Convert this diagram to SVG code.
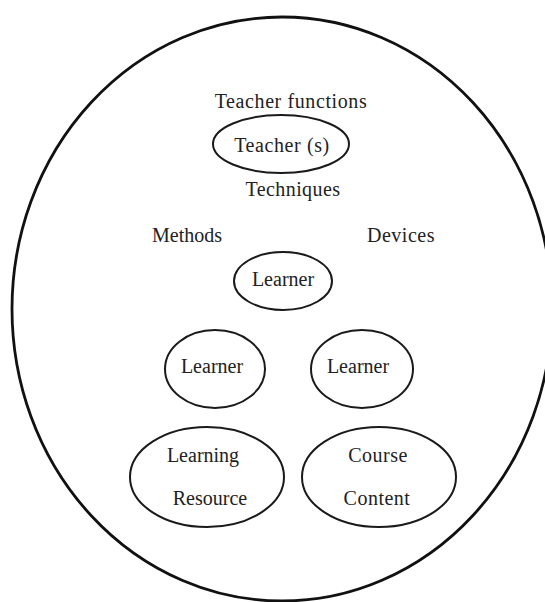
<svg xmlns="http://www.w3.org/2000/svg" width="545" height="602" viewBox="0 0 545 602">
  <style>
    .ring { fill: none; stroke: #111; stroke-width: 2.8; }
    .node { fill: none; stroke: #1a1a1a; stroke-width: 2; }
    .lbl { font-family: "Liberation Serif", "Times New Roman", serif; font-size: 20px; fill: #222; text-anchor: middle; }
  </style>
  <rect width="545" height="602" fill="#fff"/>
  <!-- outer boundary of the learning environment -->
  <ellipse class="ring" cx="282" cy="309" rx="270" ry="292"/>

  <g id="labels">
    <text class="lbl" x="291" y="108" letter-spacing="0.6">Teacher functions</text>
    <text class="lbl" x="293" y="196" letter-spacing="0.4">Techniques</text>
    <text class="lbl" x="187" y="242">Methods</text>
    <text class="lbl" x="401" y="242" letter-spacing="0.5">Devices</text>
  </g>

  <g id="teacher">
    <ellipse class="node" cx="281" cy="144" rx="68" ry="29"/>
    <text class="lbl" x="282" y="152" letter-spacing="0.6">Teacher (s)</text>
  </g>
  <g id="learner-top">
    <ellipse class="node" cx="283" cy="281" rx="49" ry="29"/>
    <text class="lbl" x="283" y="286">Learner</text>
  </g>
  <g id="learner-left">
    <ellipse class="node" cx="215" cy="369" rx="50" ry="39"/>
    <text class="lbl" x="212" y="373">Learner</text>
  </g>
  <g id="learner-right">
    <ellipse class="node" cx="362" cy="369" rx="51" ry="39"/>
    <text class="lbl" x="358" y="373">Learner</text>
  </g>
  <g id="learning-resource">
    <ellipse class="node" cx="207" cy="477" rx="77" ry="50"/>
    <text class="lbl" x="203" y="462">Learning</text>
    <text class="lbl" x="210" y="505">Resource</text>
  </g>
  <g id="course-content">
    <ellipse class="node" cx="379" cy="477" rx="77" ry="50"/>
    <text class="lbl" x="378" y="462" letter-spacing="0.5">Course</text>
    <text class="lbl" x="377" y="505" letter-spacing="0.5">Content</text>
  </g>
  <g id="connectors"/>
</svg>
